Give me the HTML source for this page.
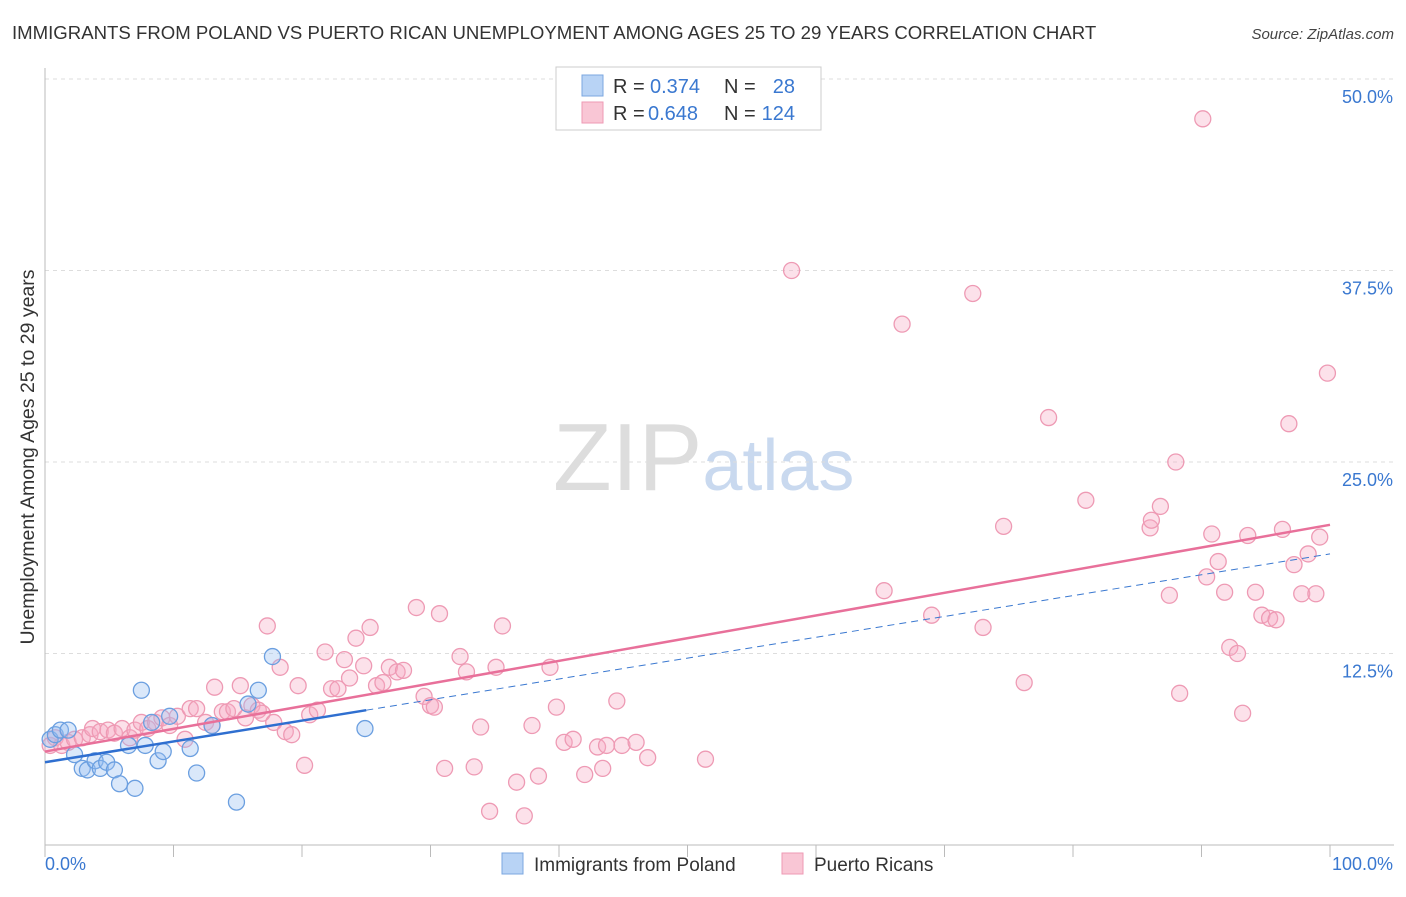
<!DOCTYPE html>
<html><head><meta charset="utf-8"><style>
body{margin:0;background:#fff;font-family:"Liberation Sans",sans-serif}
svg text{font-family:"Liberation Sans",sans-serif}
</style></head><body>
<svg id="chart" width="1406" height="892" xmlns="http://www.w3.org/2000/svg">
<text x="12" y="39" font-size="18.6" fill="#333">IMMIGRANTS FROM POLAND VS PUERTO RICAN UNEMPLOYMENT AMONG AGES 25 TO 29 YEARS CORRELATION CHART</text>
<text x="1394" y="39" font-size="15" fill="#444" text-anchor="end" font-style="italic">Source: ZipAtlas.com</text>
<text x="553" y="490" font-size="96" fill="#ddd" font-family="Liberation Serif">ZIP<tspan fill="#c9d9ef" font-family="Liberation Sans" font-size="72">atlas</tspan></text>
<g id="grid"></g><g id="axes"></g><g id="marks"></g>
<text transform="translate(34,457) rotate(-90)" font-size="19.5" fill="#333" text-anchor="middle">Unemployment Among Ages 25 to 29 years</text>
<g>
<rect x="556" y="67" width="265" height="63" fill="#fff" stroke="#ccc"/>
<rect x="582" y="75" width="21" height="21" fill="#b8d3f5" stroke="#7ba7e0"/>
<rect x="582" y="102" width="21" height="21" fill="#f9c6d5" stroke="#ee9ab4"/>
<text x="613" y="93" font-size="20" fill="#333">R =</text>
<text x="650" y="93" font-size="20" fill="#3a78d0">0.374</text>
<text x="724" y="93" font-size="20" fill="#333">N =</text>
<text x="795" y="93" font-size="20" fill="#3a78d0" text-anchor="end">28</text>
<text x="613" y="120" font-size="20" fill="#333">R =</text>
<text x="648" y="120" font-size="20" fill="#3a78d0">0.648</text>
<text x="724" y="120" font-size="20" fill="#333">N =</text>
<text x="795" y="120" font-size="20" fill="#3a78d0" text-anchor="end">124</text>
</g>
<g>
<rect x="502" y="853" width="21" height="21" fill="#b8d3f5" stroke="#7ba7e0"/>
<text x="534" y="871" font-size="19" fill="#333">Immigrants from Poland</text>
<rect x="782" y="853" width="21" height="21" fill="#f9c6d5" stroke="#ee9ab4"/>
<text x="814" y="871" font-size="19" fill="#333">Puerto Ricans</text>
</g>
</svg>
<script>
const blueX=[0.4,0.8,1.2,1.8,2.3,2.9,3.3,3.9,4.3,4.8,5.4,5.8,6.5,7.0,7.5,7.8,8.3,8.8,9.2,9.7,11.3,11.8,13.0,14.9,15.8,16.6,17.7,24.9];
const blueY=[6.9,7.2,7.5,7.5,5.9,5.0,4.9,5.5,5.0,5.4,4.9,4.0,6.5,3.7,10.1,6.5,8.0,5.5,6.1,8.4,6.3,4.7,7.8,2.8,9.2,10.1,12.3,7.6];
const pinkX=[0.4,0.8,1.3,1.8,2.3,2.9,3.5,3.7,4.3,4.9,5.4,6.0,6.6,7.0,7.5,8.0,8.6,9.1,9.7,10.3,10.9,11.3,11.8,12.5,13.0,13.2,13.8,14.2,14.7,15.2,15.6,16.1,16.6,16.9,17.3,17.8,18.3,18.7,19.2,19.7,20.2,20.6,21.2,21.8,22.3,22.8,23.3,23.7,24.2,24.8,25.3,25.8,26.3,26.8,27.4,27.9,28.9,29.5,30.0,30.3,30.7,31.1,32.3,32.8,33.4,33.9,34.6,35.1,35.6,36.7,37.3,37.9,38.4,39.3,39.8,40.4,41.1,42.0,43.0,43.4,43.7,44.5,44.9,46.0,46.9,51.4,58.1,65.3,66.7,69.0,72.2,73.0,74.6,76.2,78.1,81.0,86.0,86.1,86.8,87.5,88.0,88.3,90.1,90.4,90.8,91.3,91.8,92.2,92.8,93.2,93.6,94.2,94.7,95.3,95.8,96.3,96.8,97.2,97.8,98.3,98.9,99.2,99.8];
const pinkY=[6.5,7.0,6.5,6.7,6.9,7.0,7.2,7.6,7.4,7.5,7.3,7.6,7.0,7.5,8.0,7.6,8.0,8.3,7.8,8.4,6.9,8.9,8.9,8.0,7.8,10.3,8.7,8.7,8.9,10.4,8.3,9.1,8.8,8.6,14.3,8.0,11.6,7.4,7.2,10.4,5.2,8.5,8.8,12.6,10.2,10.2,12.1,10.9,13.5,11.7,14.2,10.4,10.6,11.6,11.3,11.4,15.5,9.7,9.1,9.0,15.1,5.0,12.3,11.3,5.1,7.7,2.2,11.6,14.3,4.1,1.9,7.8,4.5,11.6,9.0,6.7,6.9,4.6,6.4,5.0,6.5,9.4,6.5,6.7,5.7,5.6,37.5,16.6,34.0,15.0,36.0,14.2,20.8,10.6,27.9,22.5,20.7,21.2,22.1,16.3,25.0,9.9,47.4,17.5,20.3,18.5,16.5,12.9,12.5,8.6,20.2,16.5,15.0,14.8,14.7,20.6,27.5,18.3,16.4,19.0,16.4,20.1,30.8];
const yTicks=[12.5,25.0,37.5,50.0];
const xTickLabels=["0.0%","100.0%"];
const blueTrend=[5.4,19.0];
const pinkTrend=[6.1,20.9];
const blueSolidEnd=25;
const X0=45,X1=1330,Y0=845,Y50=79;
const sx=v=>X0+(X1-X0)*v/100;
const sy=v=>Y0-(Y0-Y50)*v/50;
const NS="http://www.w3.org/2000/svg";
function mk(parent,tag,attrs){const e=document.createElementNS(NS,tag);for(const k in attrs)e.setAttribute(k,attrs[k]);document.getElementById(parent).appendChild(e);return e;}
yTicks.forEach(t=>{
 const l=mk('grid','line',{x1:X0,x2:1394,y1:sy(t),y2:sy(t),stroke:'#ddd','stroke-dasharray':'4,4'});
 
 
 const tx=mk('axes','text',{x:1393,y:sy(t)+24,'font-size':18,fill:'#3a78d0','text-anchor':'end'});
 tx.textContent=t.toFixed(1)+'%';
 
 
});
const ax=mk('axes','line',{x1:X0,x2:1394,y1:Y0,y2:Y0,stroke:'#bbb'});


const ay=mk('axes','line',{x1:X0,x2:X0,y1:68,y2:Y0,stroke:'#bbb'});


for(let i=0;i<=10;i++){
 const t=mk('axes','line',{x1:sx(i*10),x2:sx(i*10),y1:Y0,y2:Y0+12,stroke:'#bbb'});
 
 
}
xTickLabels.forEach((s,i)=>{
 const t=mk('axes','text',{x:i?1393:45,y:870,'font-size':18,fill:'#3a78d0','text-anchor':i?'end':'start'});
 t.textContent=s;
 
 
});
pinkX.forEach((x,i)=>{
 const c=mk('marks','circle',{cx:sx(x),cy:sy(pinkY[i]),r:8,fill:'rgba(246,170,196,0.35)',stroke:'#ee9ab4','stroke-width':1.3});
 
 
});
blueX.forEach((x,i)=>{
 const c=mk('marks','circle',{cx:sx(x),cy:sy(blueY[i]),r:8,fill:'rgba(150,190,240,0.35)',stroke:'#6b9fe0','stroke-width':1.3});
 
 
});
const bAt=v=>blueTrend[0]+(blueTrend[1]-blueTrend[0])*v/100;
const bd=mk('marks','line',{x1:sx(blueSolidEnd),y1:sy(bAt(blueSolidEnd)),x2:sx(100),y2:sy(bAt(100)),stroke:'#3a78d0','stroke-width':1,'stroke-dasharray':'7,5'});


const pl=mk('marks','line',{x1:sx(0),y1:sy(pinkTrend[0]),x2:sx(100),y2:sy(pinkTrend[1]),stroke:'#e8709a','stroke-width':2.5});


const bl=mk('marks','line',{x1:sx(0),y1:sy(bAt(0)),x2:sx(blueSolidEnd),y2:sy(bAt(blueSolidEnd)),stroke:'#2f6fd0','stroke-width':2.5});


</script>
</body></html>
